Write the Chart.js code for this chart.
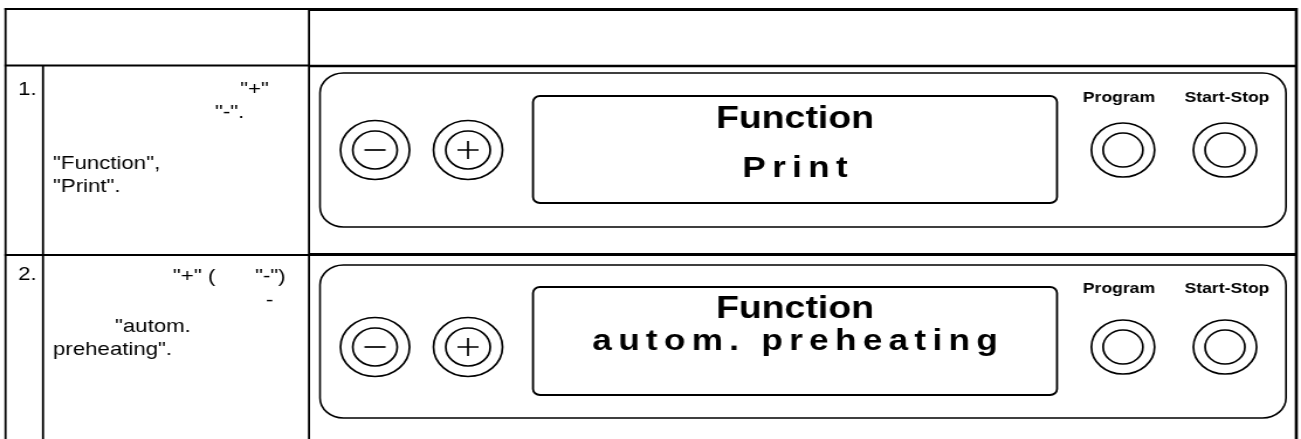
<!DOCTYPE html>
<html>
<head>
<meta charset="utf-8">
<script src="https://cdn.jsdelivr.net/npm/chart.js@4.4.0/dist/chart.umd.min.js"></script>
<style>
  html, body { margin: 0; padding: 0; background: #fff; }
</style>
</head>
<body>
<canvas id="panel" width="1112" height="439" style="display:block;width:1301px;height:439px"></canvas>
<script>
// texts of the instruction table
const stepNumbers = ['1.', '2.'];
const stepText = [
    ['"+"', '"-".', '"Function",', '"Print".'],
    ['"+" (', '"-")', '-', '"autom.', 'preheating".']
];
const displayTop = ['Function', 'Function'];
const displayBottom = ['Print', 'autom. preheating'];
const keyLabels = ['Program', 'Start-Stop'];
const signStyles = ['line', 'cross'];   // "-" and "+" keys

// layout, in pixels of the 1301 wide picture
const FONT = "'Liberation Sans', Arial, sans-serif";
const stepTextPos = [
    [[240, 95], [215, 118], [53, 169], [53, 192]],
    [[173, 282], [255, 282], [266, 306], [115, 332], [53, 355]]
];
const rows = [
    { top: 73, bottom: 227, dispTop: 96, dispBottom: 203, keyY: 150, labelY: 102, line1: 128, line2: 177, numY: 95 },
    { top: 265, bottom: 418, dispTop: 287, dispBottom: 395, keyY: 347, labelY: 293, line1: 318, line2: 350, numY: 280 }
];
const signX = [375, 468];
const keyX = [1123, 1225];

const outerPts = [], innerPts = [], signPts = [], outerR = [], innerR = [], signStyle = [];
rows.forEach(r => {
    signX.forEach((x, i) => {
        outerPts.push({ x: x, y: r.keyY }); outerR.push(29.5);
        innerPts.push({ x: x, y: r.keyY }); innerR.push(19);
        signPts.push({ x: x, y: r.keyY }); signStyle.push(signStyles[i]);
    });
    keyX.forEach(x => {
        outerPts.push({ x: x, y: r.keyY }); outerR.push(27);
        innerPts.push({ x: x, y: r.keyY }); innerR.push(17);
    });
});

function roundRect(ctx, x1, y1, x2, y2, rad) {
    ctx.beginPath();
    ctx.moveTo(x1 + rad, y1);
    ctx.lineTo(x2 - rad, y1);
    ctx.arcTo(x2, y1, x2, y1 + rad, rad);
    ctx.lineTo(x2, y2 - rad);
    ctx.arcTo(x2, y2, x2 - rad, y2, rad);
    ctx.lineTo(x1 + rad, y2);
    ctx.arcTo(x1, y2, x1, y2 - rad, rad);
    ctx.lineTo(x1, y1 + rad);
    ctx.arcTo(x1, y1, x1 + rad, y1, rad);
    ctx.closePath();
    ctx.stroke();
}

function spacedText(ctx, text, cx, y, spacing) {
    const chars = text.split('');
    const widths = chars.map(c => ctx.measureText(c).width);
    const total = widths.reduce((a, b) => a + b, 0) + spacing * (chars.length - 1);
    let x = cx - total / 2;
    ctx.textAlign = 'left';
    chars.forEach((c, i) => {
        ctx.fillText(c, x, y);
        x += widths[i] + spacing;
    });
}

const tablePlugin = {
    id: 'table',
    beforeDatasetsDraw(chart) {
        const ctx = chart.ctx;
        const X = v => chart.scales.x.getPixelForValue(v);
        const Y = v => chart.scales.y.getPixelForValue(v);
        ctx.save();
        ctx.strokeStyle = '#000';
        ctx.lineCap = 'butt';

        // table grid
        const hline = (x1, x2, y, w) => {
            ctx.lineWidth = w;
            ctx.beginPath(); ctx.moveTo(X(x1), Y(y)); ctx.lineTo(X(x2), Y(y)); ctx.stroke();
        };
        const vline = (x, y1, y2, w) => {
            ctx.lineWidth = w;
            ctx.beginPath(); ctx.moveTo(X(x), Y(y1)); ctx.lineTo(X(x), Y(y2)); ctx.stroke();
        };
        hline(4.5, 310, 9, 2);
        hline(310, 1297.5, 9.5, 3);
        hline(4.5, 310, 65.5, 2);
        hline(310, 1297.5, 66, 2.6);
        hline(4.5, 310, 255, 2);
        hline(310, 1297.5, 254.5, 3);
        vline(5.5, 8, 439, 1.8);
        vline(43, 65, 439, 1.8);
        vline(309, 8, 439, 1.8);
        vline(1296.3, 8, 439, 2.6);

        // panel outlines and displays
        rows.forEach(r => {
            ctx.lineWidth = 1.6;
            roundRect(ctx, X(320), Y(r.top), X(1286), Y(r.bottom), 20);
            ctx.lineWidth = 1.8;
            roundRect(ctx, X(533), Y(r.dispTop), X(1057), Y(r.dispBottom), 6);
        });
        ctx.restore();
    },
    afterDatasetsDraw(chart) {
        const ctx = chart.ctx;
        const X = v => chart.scales.x.getPixelForValue(v);
        const Y = v => chart.scales.y.getPixelForValue(v);
        ctx.save();
        ctx.fillStyle = '#000';
        ctx.textBaseline = 'alphabetic';

        rows.forEach((r, i) => {
            // left columns
            ctx.font = '19px ' + FONT;
            ctx.textAlign = 'left';
            ctx.fillText(stepNumbers[i], X(18), Y(r.numY));
            stepText[i].forEach((t, j) => {
                const p = stepTextPos[i][j];
                ctx.fillText(t, X(p[0]), Y(p[1]));
            });

            // key labels
            ctx.font = 'bold 15px ' + FONT;
            ctx.textAlign = 'center';
            keyLabels.forEach((t, j) => ctx.fillText(t, X(keyX[j] - 4 + j * 6), Y(r.labelY)));

            // display lines
            ctx.font = 'bold 32px ' + FONT;
            ctx.textAlign = 'center';
            ctx.fillText(displayTop[i], X(795), Y(r.line1));
            ctx.font = 'bold 30px ' + FONT;
            spacedText(ctx, displayBottom[i], X(795), Y(r.line2), 5.4);
        });
        ctx.restore();
    }
};

const ctx = document.getElementById('panel').getContext('2d');
const chart = new Chart(ctx, {
    type: 'scatter',
    data: {
        datasets: [
            { data: signPts, order: 1, pointStyle: signStyle, pointRadius: 9, pointBorderColor: '#000', pointBorderWidth: 1.7 },
            { data: innerPts, order: 2, pointRadius: innerR, pointBackgroundColor: '#fff', pointBorderColor: '#000', pointBorderWidth: 1.7 },
            { data: outerPts, order: 3, pointRadius: outerR, pointBackgroundColor: '#fff', pointBorderColor: '#000', pointBorderWidth: 1.7 }
        ]
    },
    options: {
        responsive: false,
        animation: false,
        events: [],
        layout: { padding: 0, autoPadding: false },
        plugins: { legend: { display: false }, tooltip: { enabled: false } },
        scales: {
            x: { type: 'linear', min: 0, max: 1301, display: false },
            y: { type: 'linear', min: 0, max: 439, reverse: true, display: false }
        }
    },
    plugins: [tablePlugin]
});
</script>
</body>
</html>
